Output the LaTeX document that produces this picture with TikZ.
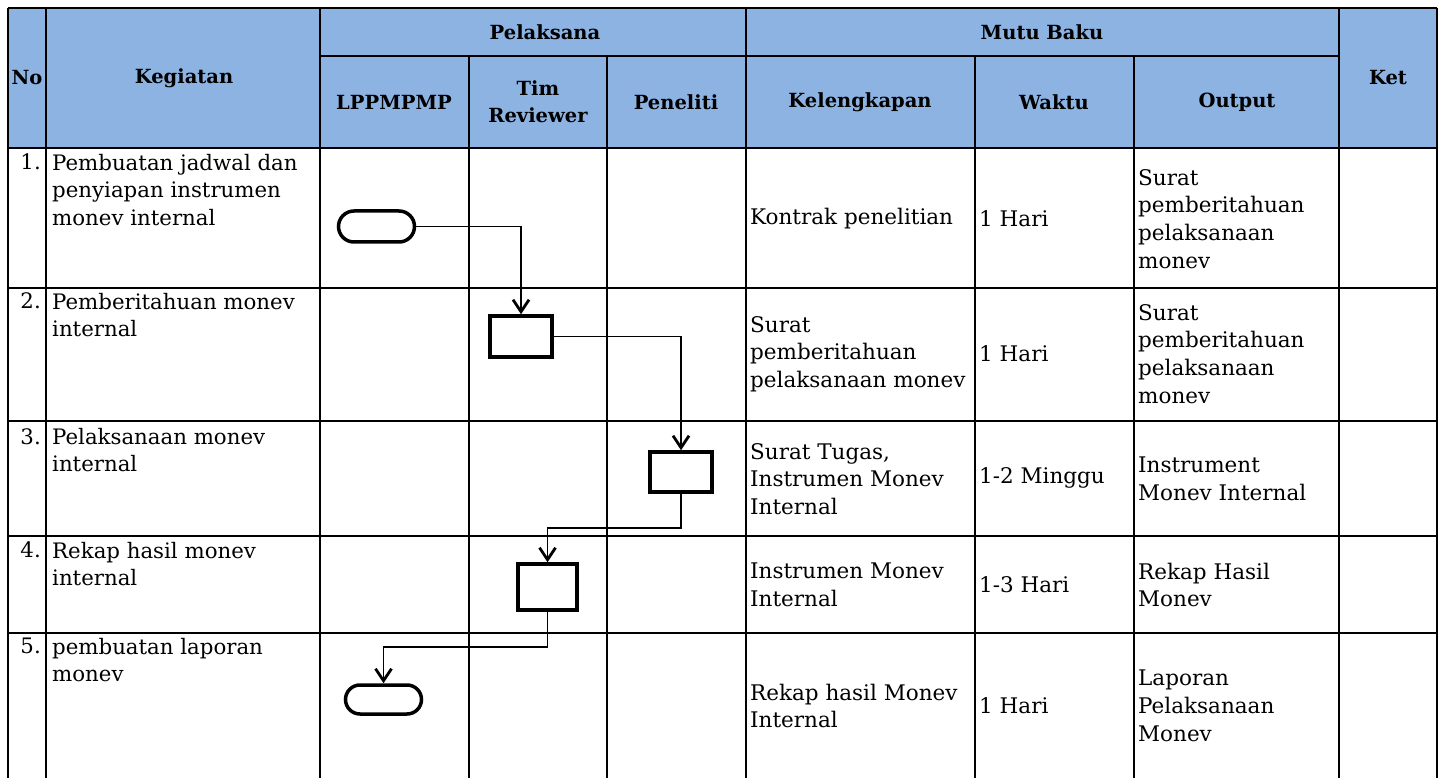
\documentclass[tikz,border=0pt]{standalone}
\usepackage{fontspec}
\setmainfont{DejaVu Serif}
\usetikzlibrary{arrows.meta,shapes.misc}
\definecolor{hdrblue}{RGB}{141,179,226}
\begin{document}
\begin{tikzpicture}[x=1pt,y=-1pt,
  gridline/.style={line width=2pt,black},
  hd/.style={font=\fontsize{19.5}{27}\selectfont\bfseries, align=center, inner sep=0pt},
  txt/.style={font=\fontsize{21.3}{27.7}\selectfont, align=left, inner sep=0pt, anchor=west},
  txr/.style={font=\fontsize{21.5}{27.7}\selectfont, align=left, inner sep=0pt, anchor=west},
  num/.style={font=\fontsize{21.3}{27.7}\selectfont, inner sep=0pt, anchor=east},
  term/.style={rounded rectangle, draw, line width=3.5pt, minimum width=76pt, minimum height=31pt, inner sep=0pt},
  proc/.style={rectangle, draw, line width=3.5pt, inner sep=0pt},
  flow/.style={line width=1.5pt, -{Straight Barb[length=12pt,width=16pt,line width=2.8pt]}}
]
\useasboundingbox (0,0) rectangle (1444,778);
% header fill
\fill[hdrblue] (8,8) rectangle (1437,148);
% grid
\draw[gridline] (8,8) -- (1437,8);
\draw[gridline] (8,8) -- (8,778);
\draw[gridline] (1437,8) -- (1437,778);
\draw[gridline] (320,56) -- (1339,56);
\foreach \yy in {148,288,421,536,633} \draw[gridline] (8,\yy) -- (1437,\yy);
\foreach \xx in {46,320,746,1339} \draw[gridline] (\xx,8) -- (\xx,778);
\foreach \xx in {469,607,975,1134} \draw[gridline] (\xx,56) -- (\xx,778);

% header texts
\node[hd] (hNo) at (27,78) {No};
\node[hd] (hKeg) at (184,78) {Kegiatan};
\node[hd] (hPel) at (545,32) {Pelaksana};
\node[hd] (hMutu) at (1042,32) {Mutu Baku};
\node[hd] (hKet) at (1388,78) {Ket};
\node[hd] (hLP) at (394,102) {LPPMPMP};
\node[hd] (hTim) at (538,102) {Tim\\Reviewer};
\node[hd] (hPen) at (676,102) {Peneliti};
\node[hd] (hKel) at (860,102) {Kelengkapan};
\node[hd] (hWak) at (1054,102) {Waktu};
\node[hd] (hOut) at (1237,102) {Output};

% row 1
\node[num] (n1) at (41,162) {1.};
\node[txt] (k1) at (52,190) {Pembuatan jadwal dan\\penyiapan instrumen\\monev internal};
\node[txr] (l1) at (750,219) {Kontrak penelitian};
\node[txr] (w1) at (979,219) {1 Hari};
\node[txr] (o1) at (1138,219) {Surat\\pemberitahuan\\pelaksanaan\\monev};
% row 2
\node[num] (n2) at (41,301) {2.};
\node[txt] (k2) at (52,315) {Pemberitahuan monev\\internal};
\node[txr] (l2) at (750,354) {Surat\\pemberitahuan\\pelaksanaan monev};
\node[txr] (w2) at (979,354) {1 Hari};
\node[txr] (o2) at (1138,354) {Surat\\pemberitahuan\\pelaksanaan\\monev};
% row 3
\node[num] (n3) at (41,437) {3.};
\node[txt] (k3) at (52,450) {Pelaksanaan monev\\internal};
\node[txr] (l3) at (750,479) {Surat Tugas,\\Instrumen Monev\\Internal};
\node[txr] (w3) at (979,478) {1-2 Minggu};
\node[txr] (o3) at (1138,479) {Instrument\\Monev Internal};
% row 4
\node[num] (n4) at (41,550) {4.};
\node[txt] (k4) at (52,564) {Rekap hasil monev\\internal};
\node[txr] (l4) at (750,585) {Instrumen Monev\\Internal};
\node[txr] (w4) at (979,585) {1-3 Hari};
\node[txr] (o4) at (1138,585) {Rekap Hasil\\Monev};
% row 5
\node[num] (n5) at (41,646) {5.};
\node[txt] (k5) at (52,660) {pembuatan laporan\\monev};
\node[txr] (l5) at (750,706) {Rekap hasil Monev\\Internal};
\node[txr] (w5) at (979,706) {1 Hari};
\node[txr] (o5) at (1138,706) {Laporan\\Pelaksanaan\\Monev};

% flow shapes
\node[term] (T1) at (376.5,226.5) {};
\node[proc, minimum width=62pt, minimum height=41pt] (B1) at (521,336.5) {};
\node[proc, minimum width=62pt, minimum height=40pt] (B2) at (681,472) {};
\node[proc, minimum width=59pt, minimum height=46pt] (B3) at (547.5,587) {};
\node[term, minimum height=29pt] (T2) at (383.5,699.5) {};

% connectors
\draw[flow] (T1.east) -| (B1.north);
\draw[flow] (B1.east) -| (B2.north);
\draw[flow] (B2.south) -- ++(0,34) -| (B3.north);
\draw[flow] (B3.south) -- ++(0,35) -| (T2.north);
\end{tikzpicture}
\end{document}
